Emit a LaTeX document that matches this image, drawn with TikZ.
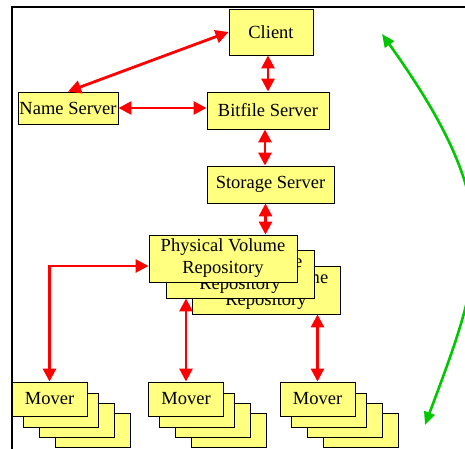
\documentclass[tikz,border=0pt]{standalone}
\usepackage{fontspec}
\setmainfont{Liberation Serif}
\usepackage{tikz}
\usetikzlibrary{arrows.meta}
\definecolor{boxyellow}{RGB}{255,255,128}
\definecolor{linkred}{RGB}{255,0,0}
\definecolor{loopgreen}{RGB}{0,200,0}

\tikzset{
  unit/.style={draw=black, line width=0.9pt, fill=boxyellow, inner sep=0pt,
    align=center, font=\fontsize{18.5}{22}\selectfont},
  link/.style={linkred, line width=2.8pt,
    {Triangle[length=13pt,width=13pt]}-{Triangle[length=13pt,width=13pt]}},
  loop/.style={loopgreen, line width=2.6pt,
    {Triangle[length=13pt,width=11pt]}-{Triangle[length=13pt,width=11pt]}},
}

\begin{document}
\begin{tikzpicture}[x=1pt, y=-1pt]
    \useasboundingbox (0,0) rectangle (465,448);
    % frame, runs out of the picture on the right and below
    \draw[line width=2pt] (11.5,7) rectangle (520,520);

    \node[unit, minimum width=84pt, minimum height=46pt] (client) at (271,32) {Client};
    \node[unit, minimum width=100pt, minimum height=32pt] (nameserver) at (68,108) {Name Server};
    \node[unit, minimum width=122pt, minimum height=37pt] (bitfile) at (268,110.5) {Bitfile Server};
    \node[unit, minimum width=127pt, minimum height=37pt] (storage) at (270.5,184.5) {Storage Server};

    % stacked repositories, back to front
    \node[unit, minimum width=148pt, minimum height=48pt] (pvr3) at (266,290) {Physical Volume\\Repository};
    \node[unit, minimum width=148pt, minimum height=48pt] (pvr2) at (240,274) {Physical Volume\\Repository};
    \node[unit, minimum width=148pt, minimum height=47pt] (pvr1) at (223,258.5) {Physical Volume\\Repository};

    % stacked movers, back to front
    \foreach \name/\cx in {moverA/49.5, moverB/186, moverC/317.5} {
      \node[unit, minimum width=75pt, minimum height=34pt] (\name4) at (\cx+43,430) {};
      \node[unit, minimum width=75pt, minimum height=34pt] (\name3) at (\cx+27,420) {};
      \node[unit, minimum width=75pt, minimum height=34pt] (\name2) at (\cx+11,410) {};
      \node[unit, minimum width=75pt, minimum height=34pt] (\name1) at (\cx,399) {Mover};
    }

    \draw[link] (client.west) -- (nameserver.north);
    \draw[link] (bitfile.north |- client.south) -- (bitfile.north);
    \draw[link] (nameserver.east) -- (nameserver.east -| bitfile.west);
    \draw[link] ([xshift=-3pt]bitfile.south) -- ([xshift=-3pt]bitfile.south |- storage.north);
    \draw[link] ([xshift=-5pt]storage.south) -- ([xshift=-5pt]storage.south |- pvr1.north);
    \draw[link] (moverA1.north) |- ([yshift=-7.5pt]pvr1.west);
    \draw[link] (moverB1.north |- pvr2.south) -- (moverB1.north);
    \draw[link] (moverC1.north |- pvr3.south) -- (moverC1.north);

    \coordinate (looptop) at (382,34);
    \coordinate (loopbot) at (425,425);
    \draw[loop] (looptop) .. controls (507,209) and (485,265) .. (loopbot);
\end{tikzpicture}
\end{document}
